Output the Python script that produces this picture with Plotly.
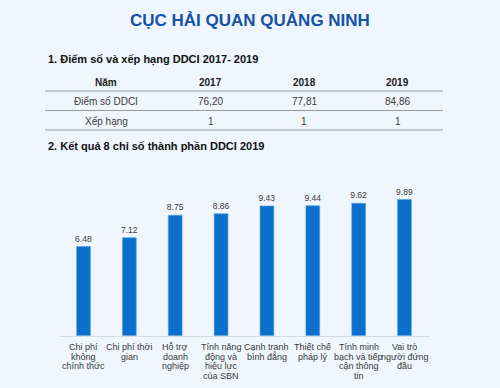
import plotly.graph_objects as go

# ---- data ----
title_text = "CỤC HẢI QUAN QUẢNG NINH"
section1 = "1. Điểm số và xếp hạng DDCI 2017- 2019"
section2 = "2. Kết quả 8 chỉ số thành phần DDCI 2019"

table_header = ["Năm", "2017", "2018", "2019"]
table_row_scores = ["Điểm số DDCI", "76,20", "77,81", "84,86"]
table_row_ranks = ["Xếp hạng", "1", "1", "1"]

categories = [
    "Chi phí<br>không<br>chính thức",
    "Chi phí thời<br>gian",
    "Hỗ trợ<br>doanh<br>nghiệp",
    "Tính năng<br>động và<br>hiệu lực<br>của SBN",
    "Cạnh tranh<br>bình đẳng",
    "Thiết chế<br>pháp lý",
    "Tính minh<br>bạch và tiếp<br>cận thông<br>tin",
    "Vai trò<br>người đứng<br>đầu",
]
values = [6.48, 7.12, 8.75, 8.86, 9.43, 9.44, 9.62, 9.89]

# ---- layout helpers ----
W, H = 500, 388
FONT = "Liberation Sans, Arial, sans-serif"
BG = "#eff6fd"
BAR = "#0b6fcd"
TXT = "#3a3a3a"


def px(x):
    return x / W


def py(y):
    return 1 - y / H


fig = go.Figure()
fig.add_trace(go.Bar(
    x=categories, y=values,
    marker=dict(color=BAR, line=dict(color="#4f9ee6", width=0.6)),
    text=[f"{v:.2f}" for v in values], textposition="outside", constraintext="none",
    textfont=dict(family=FONT, size=8.5, color=TXT),
    cliponaxis=False, hoverinfo="skip",
))

annotations = []
annotations.append(dict(text=f"<b>{title_text}</b>", x=px(250), y=py(20), xref="paper", yref="paper",
                        xanchor="center", yanchor="middle", showarrow=False,
                        font=dict(family=FONT, size=17, color="#1552a6")))
for txt, yy in [(section1, 59), (section2, 146)]:
    annotations.append(dict(text=f"<b>{txt}</b>", x=px(46), y=py(yy), xref="paper", yref="paper",
                            xanchor="left", yanchor="middle", showarrow=False,
                            font=dict(family=FONT, size=11, color="#111111")))

col_x = [106, 210.5, 304, 397.5]
row_y = [82.5, 102, 121.5]
for r, row in enumerate([table_header, table_row_scores, table_row_ranks]):
    for c, cell in enumerate(row):
        t = f"<b>{cell}</b>" if r == 0 else cell
        annotations.append(dict(text=t, x=px(col_x[c]), y=py(row_y[r]), xref="paper", yref="paper",
                                xanchor="center", yanchor="middle", showarrow=False,
                                font=dict(family=FONT, size=10, color="#222222" if r == 0 else TXT)))

shapes = []
for ly in [91, 110.5, 130]:
    shapes.append(dict(type="line", xref="paper", yref="paper", x0=px(45), x1=px(443),
                       y0=py(ly), y1=py(ly), line=dict(color="#9a9a9a", width=1.2)))

# category labels, one annotation per line
for cat in categories:
    for i, line in enumerate(cat.split("<br>")):
        annotations.append(dict(text=line, x=cat, y=py(346.7 + i * 9.8), xref="x", yref="paper",
                                xanchor="center", yanchor="middle", showarrow=False,
                                font=dict(family=FONT, size=9, color=TXT)))

fig.update_layout(
    width=W, height=H, margin=dict(l=0, r=0, t=0, b=0),
    paper_bgcolor=BG, plot_bgcolor=BG, showlegend=False,
    bargap=0.7,
    xaxis=dict(domain=[px(60), px(430)], type="category", showticklabels=False, ticks="",
               showline=True, linecolor="#d6dbe2", linewidth=1, showgrid=False,
               zeroline=False, automargin=False, fixedrange=True),
    yaxis=dict(domain=[py(335.7), py(191.2)], range=[0, 10.5], visible=False,
               showgrid=False, zeroline=False, automargin=False, fixedrange=True),
    annotations=annotations, shapes=shapes,
)

fig.write_html("out.html")
